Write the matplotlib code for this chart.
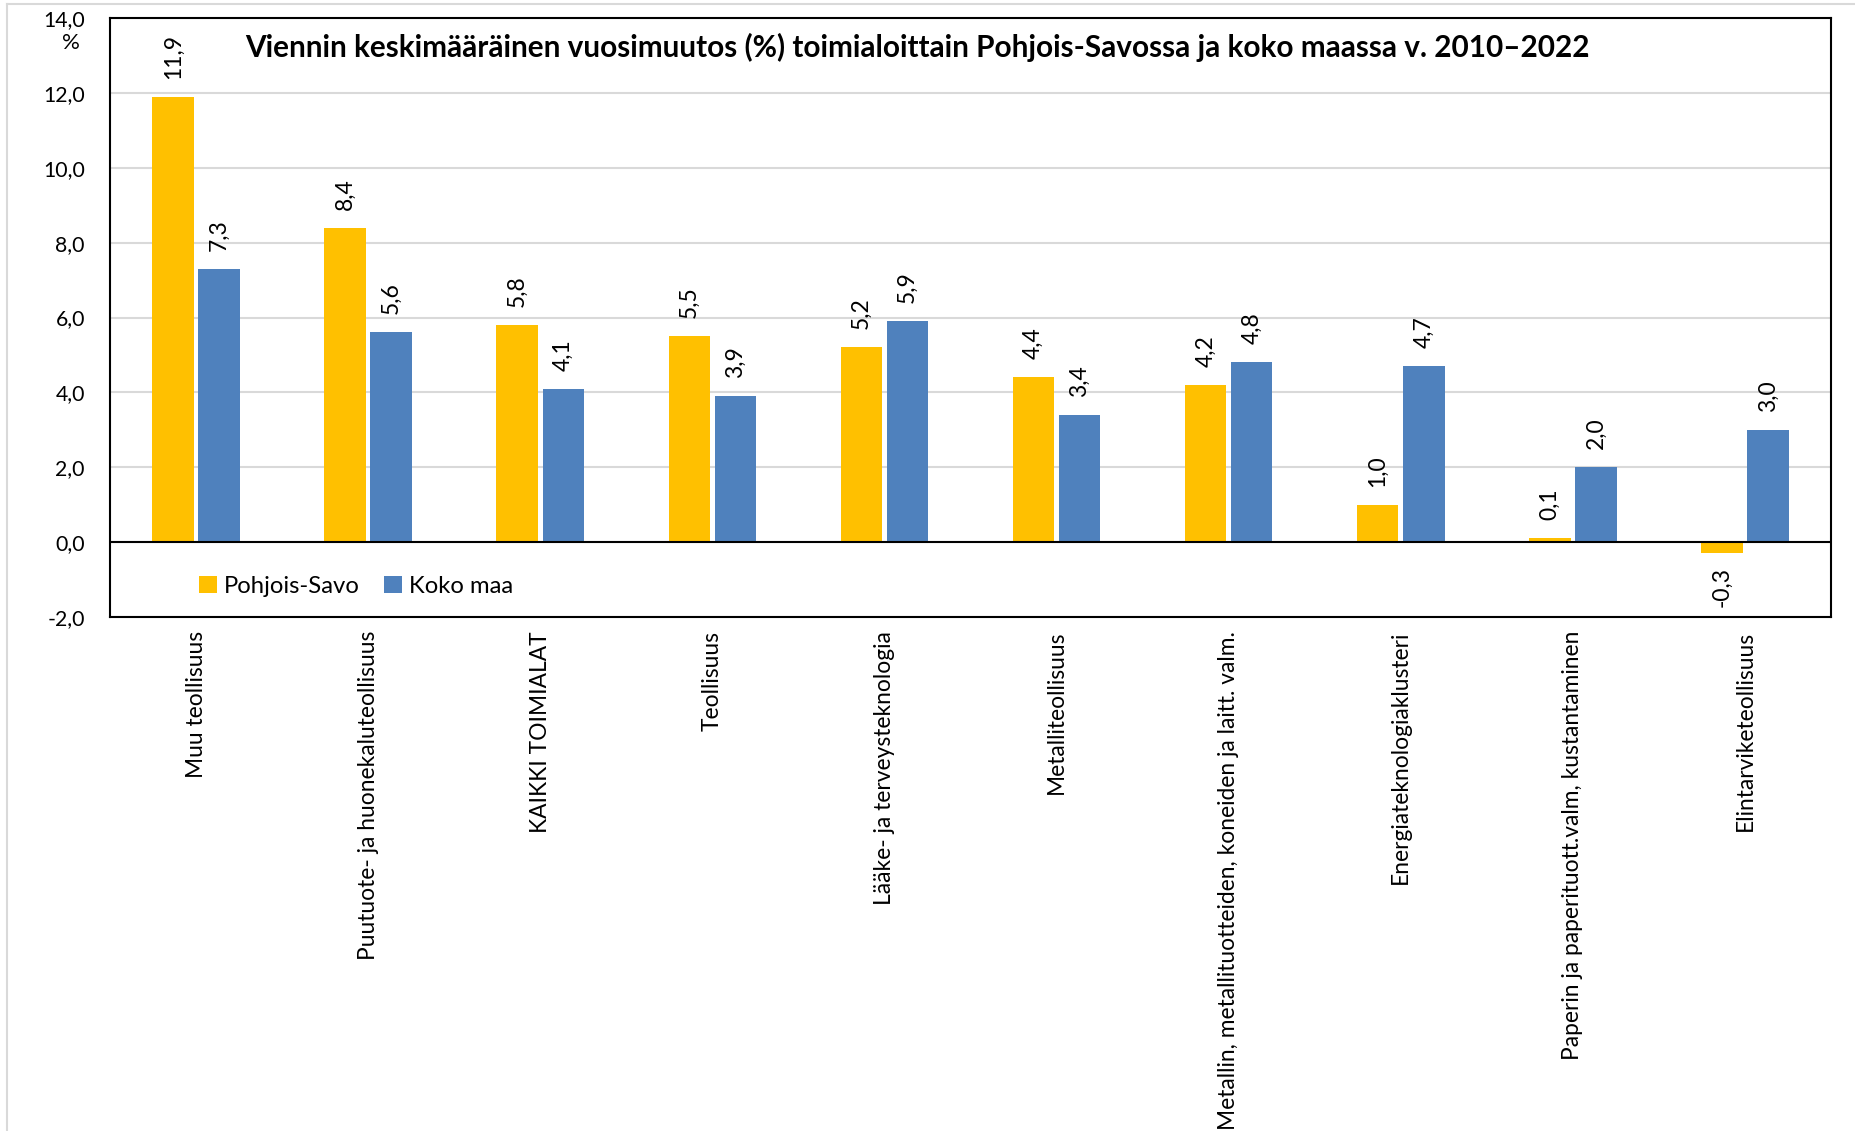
import matplotlib.pyplot as plt
from matplotlib.lines import Line2D
import numpy as np

plt.rcParams['font.family'] = ['Lato', 'DejaVu Sans']

categories = ["Muu teollisuus", "Puutuote- ja huonekaluteollisuus", "KAIKKI TOIMIALAT",
              "Teollisuus", "Lääke- ja terveysteknologia", "Metalliteollisuus",
              "Metallin, metallituotteiden, koneiden ja laitt. valm.",
              "Energiateknologiaklusteri", "Paperin ja paperituott.valm, kustantaminen",
              "Elintarviketeollisuus"]
pohjois_savo = [11.9, 8.4, 5.8, 5.5, 5.2, 4.4, 4.2, 1.0, 0.1, -0.3]
koko_maa = [7.3, 5.6, 4.1, 3.9, 5.9, 3.4, 4.8, 4.7, 2.0, 3.0]
yticks = [-2, 0, 2, 4, 6, 8, 10, 12, 14]

fig = plt.figure(figsize=(18.56, 11.31), dpi=100)
ax = fig.add_axes([110/1856, 1-617/1131, 1721/1856, 599/1131])

# light frame around the picture
fig.add_artist(Line2D([7/1856, 1], [1-4/1131, 1-4/1131], color='#d9d9d9', lw=1.5))
fig.add_artist(Line2D([7/1856, 7/1856], [0, 1-4/1131], color='#d9d9d9', lw=1.5))

x = np.arange(len(categories))
w = 0.241
b1 = ax.bar(x - 0.134, pohjois_savo, w, color='#FFC000', label='Pohjois-Savo', zorder=3)
b2 = ax.bar(x + 0.134, koko_maa, w, color='#4F81BD', label='Koko maa', zorder=3)

def fmt(v):
    return f"{v:.1f}".replace('.', ',')

for bars, vals in [(b1, pohjois_savo), (b2, koko_maa)]:
    for r, v in zip(bars, vals):
        cx = r.get_x() + r.get_width() / 2
        if v >= 0:
            ax.annotate(fmt(v), (cx, v), xytext=(0, 13), textcoords='offset points',
                        rotation=90, ha='center', va='bottom', fontsize=16.5)
        else:
            ax.annotate(fmt(v), (cx, v), xytext=(0, -10), textcoords='offset points',
                        rotation=90, ha='center', va='top', fontsize=16.5)

ax.set_xlim(-0.5, len(categories) - 0.5)
ax.set_ylim(-2, 14)
ax.set_yticks(yticks)
ax.set_yticklabels([fmt(t) for t in yticks], fontsize=15.3)
ax.yaxis.grid(True, color='#d9d9d9', lw=1.5, zorder=0)
ax.axhline(0, color='black', lw=1.5, zorder=4)
ax.tick_params(axis='y', length=0, pad=18)
ax.set_xticks(x)
ax.set_xticklabels(categories, rotation=90, va='top', ha='center', fontsize=16.4)
ax.tick_params(axis='x', length=0, pad=10)
for s in ax.spines.values():
    s.set_linewidth(1.5)
    s.set_color('black')

fig.text(71/1856, 1-43/1131, "%", fontsize=16, ha='center', va='center')
ax.text(0.469, 0.9506, "Viennin keskimääräinen vuosimuutos (%) toimialoittain Pohjois-Savossa ja koko maassa v. 2010\u20132022",
        transform=ax.transAxes, ha='center', va='center', fontsize=21.4, fontweight='bold')

ax.legend(loc='center left', bbox_to_anchor=(0.0516, 0.0515), ncol=2, frameon=False,
          fontsize=17.2, handlelength=0.75, handleheight=0.75, handletextpad=0.3,
          columnspacing=1.0, borderpad=0, borderaxespad=0)

fig.savefig("out.png", dpi=100)
